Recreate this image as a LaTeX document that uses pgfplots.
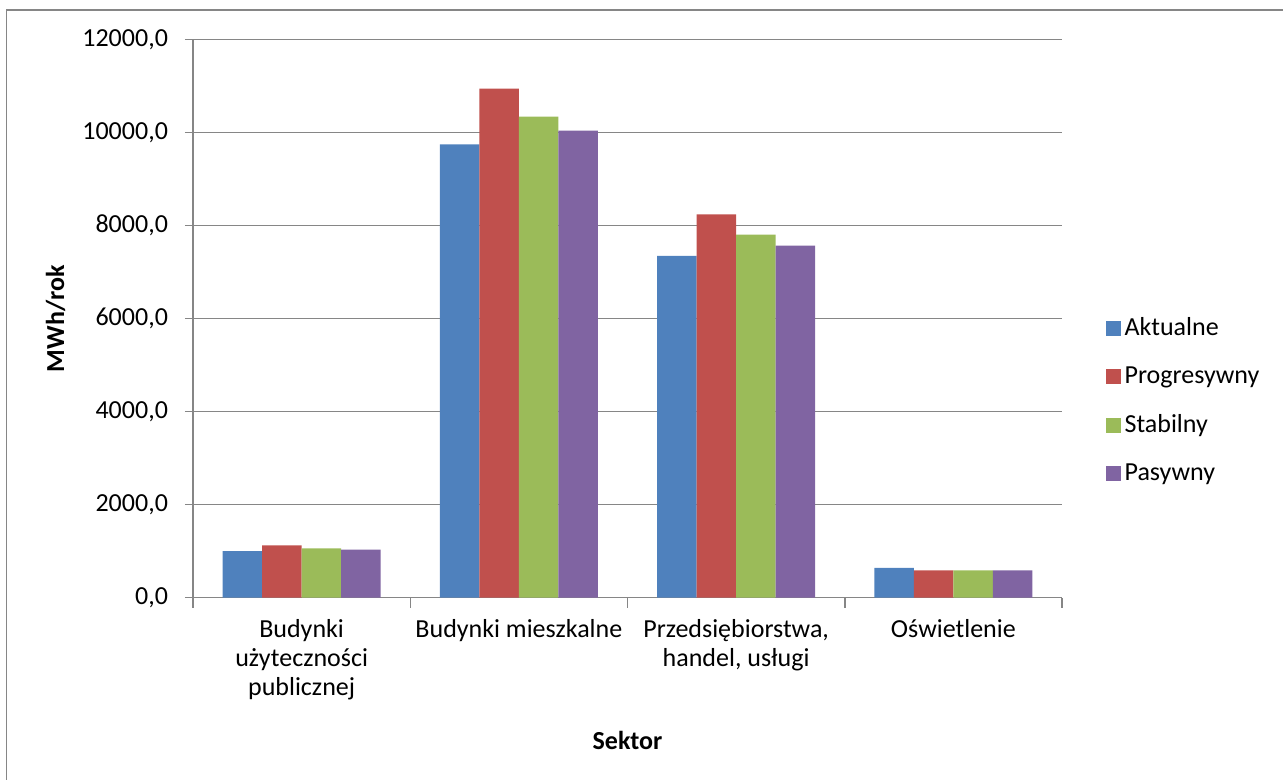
\documentclass[border=0pt]{standalone}
\usepackage{pgfplots}
\pgfplotsset{compat=1.18}
\usepackage{fontspec}
\setmainfont{Carlito}

\definecolor{cAkt}{HTML}{4F81BD}
\definecolor{cProg}{HTML}{C0504D}
\definecolor{cStab}{HTML}{9BBB59}
\definecolor{cPas}{HTML}{8064A2}
\definecolor{gridgray}{HTML}{868686}

\newcommand{\chartfont}{\fontsize{13}{14.5}\selectfont}

\begin{document}
\begin{tikzpicture}[x=1pt,y=1pt]
\path[use as bounding box] (0,0) rectangle (641.5,-390);
% chart area frame
\draw[gridgray, line width=0.9pt] (3.25,-395) -- (3.25,-5) -- (645,-5);
\begin{axis}[
  at={(96.5pt,-298.75pt)}, anchor=south west,
  scale only axis, width=434.5pt, height=278.9pt,
  ymin=0, ymax=12000, ytick={0,2000,...,12000},
  scaled y ticks=false,
  xmin=-0.5, xmax=3.5,
  xtick={0,1,2,3},
  xticklabels={{Budynki\\użyteczności\\publicznej},{Budynki mieszkalne},{Przedsiębiorstwa,\\handel, usługi},{Oświetlenie}},
  minor xtick={-0.5,0.5,1.5,2.5,3.5},
  major x tick style={draw=none},
  axis x line*=bottom, axis y line*=left,
  axis line style={gridgray, line width=0.75pt},
  tick style={gridgray, line width=0.75pt},
  tick align=outside,
  major tick length=4pt, minor tick length=5pt,
  ymajorgrids, major grid style={gridgray, line width=0.75pt},
  tick label style={font=\chartfont},
  xticklabel style={align=center, anchor=north, yshift=-3.5pt},
  yticklabel style={anchor=east, xshift=-5pt},
  /pgf/number format/.cd, fixed, fixed zerofill, precision=1, use comma, 1000 sep={}, assume math mode=true,
  /pgfplots/.cd,
  xlabel={Sektor}, ylabel={MWh/rok},
  label style={font=\bfseries\chartfont},
  xlabel style={at={(axis description cs:0.5,-0.2555)}, anchor=center},
  ylabel style={at={(axis description cs:-0.158,0.5)}, anchor=center},
  ybar=0pt, bar width=19.75pt,
  legend style={at={(1.0428,0.353)}, anchor=west, draw=none, fill=none,
    font=\chartfont, row sep=10pt},
  legend cell align=left,
  legend image code/.code={\fill[#1] (2pt,-3.75pt) rectangle (9.5pt,3.75pt);},
]
\addplot[fill=cAkt, draw=none] coordinates {(0,1000) (1,9750) (2,7347) (3,635)};
\addplot[fill=cProg, draw=none] coordinates {(0,1123) (1,10947) (2,8244) (3,585)};
\addplot[fill=cStab, draw=none] coordinates {(0,1058) (1,10344) (2,7806) (3,585)};
\addplot[fill=cPas, draw=none] coordinates {(0,1029) (1,10043) (2,7569) (3,585)};
\legend{Aktualne, Progresywny, Stabilny, Pasywny}
\end{axis}
\end{tikzpicture}
\end{document}
